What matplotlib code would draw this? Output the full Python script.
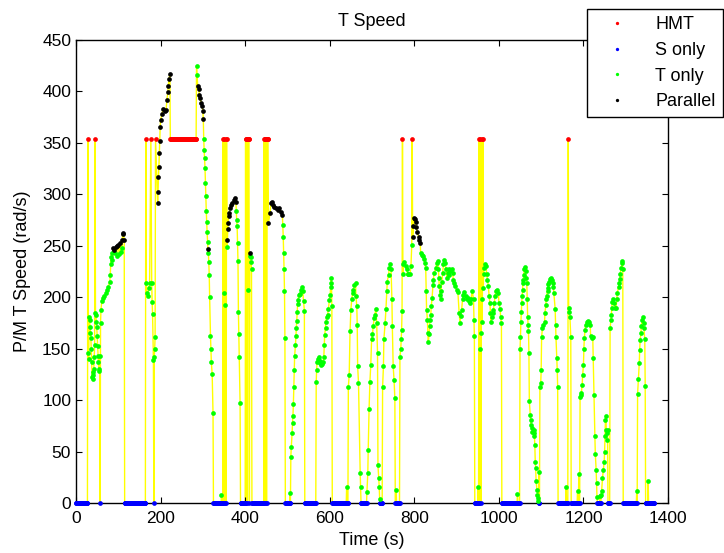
import numpy as np
import matplotlib.pyplot as plt

plt.rcParams['font.family'] = ['Liberation Sans', 'DejaVu Sans']

HMT_SPEED = 354  # rad/s, T speed held while in HMT mode

# mode runs (start s, end s), sampled every second
s_only_runs = [(0, 27), (57, 57), (115, 164), (184, 184), (325, 343), (345, 347),
               (349, 349), (353, 353), (355, 355), (389, 400), (402, 402), (405, 405),
               (410, 410), (416, 444), (446, 446), (450, 451), (495, 505), (507, 507),
               (541, 567), (606, 639), (641, 643), (674, 687), (719, 724), (755, 756),
               (758, 765), (943, 950), (952, 952), (954, 954), (958, 958), (1007, 1043),
               (1045, 1049), (1094, 1094), (1096, 1096), (1140, 1158), (1160, 1163),
               (1171, 1185), (1187, 1188), (1190, 1191), (1233, 1238), (1240, 1241),
               (1258, 1262), (1294, 1325), (1327, 1327), (1347, 1352), (1354, 1367)]
hmt_runs = [(28, 28), (45, 45), (165, 165), (177, 177), (188, 188), (223, 284),
            (348, 348), (350, 350), (354, 354), (356, 356), (401, 401), (403, 404),
            (407, 409), (445, 445), (447, 449), (452, 454), (772, 772), (795, 795),
            (953, 953), (955, 955), (959, 959), (962, 962), (1164, 1164)]

t_only = [
    (29, 146), (30, 140), (31, 181), (32, 178), (33, 171), (34, 165), (35, 160), (36, 150),
    (37, 137), (38, 122), (39, 121), (40, 124), (41, 127), (42, 130), (43, 142), (44, 154),
    (46, 185), (47, 183), (48, 176), (49, 171), (50, 162), (51, 153), (52, 143), (53, 137),
    (54, 128), (55, 130), (56, 143),
    (58, 175), (59, 188), (61, 196), (63, 199), (67, 201), (71, 204), (74, 207), (76, 210),
    (80, 215), (81, 222), (82, 232), (83, 239), (84, 243), (86, 236), (92, 243), (96, 240),
    (102, 242), (106, 244), (109, 248),
    (166, 214), (168, 204), (170, 201), (172, 209), (174, 214), (179, 214), (180, 195),
    (181, 184), (183, 139), (185, 142), (186, 150), (187, 161),
    (285, 425), (286, 416),
    (302, 354), (303, 343), (304, 335), (305, 326), (306, 311), (307, 298), (308, 284),
    (309, 273), (310, 263), (311, 254), (313, 243), (314, 234), (315, 222), (316, 200),
    (318, 162), (319, 150), (320, 137), (322, 125), (324, 87),
    (344, 8), (351, 204), (352, 192), (357, 249),
    (379, 284), (380, 275), (381, 269), (382, 253), (383, 235), (384, 186), (385, 164),
    (386, 142), (388, 97),
    (406, 207), (412, 240), (413, 239), (414, 234), (415, 227),
    (489, 270), (490, 259), (491, 243), (492, 227), (493, 206), (494, 160),
    (506, 10),
    (508, 45), (509, 54), (511, 68), (512, 78), (513, 85), (514, 96), (515, 113), (516, 129),
    (517, 143), (519, 154), (520, 162), (521, 170), (522, 177), (523, 186), (524, 193),
    (525, 197), (527, 202), (530, 203), (532, 207), (534, 210), (536, 206), (538, 196),
    (540, 187),
    (568, 118), (569, 129), (570, 137), (572, 140), (574, 142), (576, 138), (578, 136),
    (580, 134), (582, 135), (584, 137), (586, 142), (587, 154), (588, 163), (590, 170),
    (591, 176), (593, 181), (595, 183), (597, 189), (599, 197), (601, 202), (602, 210),
    (603, 214), (604, 219), (605, 191),
    (640, 16),
    (644, 113), (646, 124), (648, 167), (650, 188), (652, 198), (654, 204), (656, 207),
    (658, 212), (661, 214), (662, 201), (664, 191), (665, 173), (666, 133), (668, 117),
    (672, 29), (673, 16),
    (688, 11), (690, 29), (691, 52), (693, 91), (695, 118), (697, 134), (699, 159),
    (701, 164), (703, 172), (705, 180), (707, 183), (709, 189), (711, 175), (713, 146),
    (714, 37), (716, 24), (717, 16), (718, 4),
    (725, 113), (727, 133), (728, 159), (731, 175), (733, 189), (735, 206), (736, 215),
    (739, 222), (741, 228), (743, 232), (745, 227), (747, 198), (748, 172), (750, 133),
    (752, 120), (754, 102), (757, 13),
    (766, 142), (768, 150), (769, 159), (770, 168), (771, 187), (773, 223), (774, 232),
    (776, 234), (780, 230), (782, 227), (784, 223), (786, 223), (790, 223), (792, 230),
    (794, 251),
    (815, 243), (818, 241), (820, 240), (823, 237), (825, 233), (827, 228), (828, 206),
    (829, 188), (831, 178), (832, 165), (833, 156), (835, 164), (836, 172), (837, 178),
    (839, 183), (840, 191), (842, 199), (844, 212), (845, 217), (847, 224), (851, 228),
    (853, 233), (855, 235), (857, 227), (858, 219), (859, 211), (861, 202), (862, 198),
    (863, 206), (865, 215), (867, 224), (869, 232), (871, 236), (873, 233), (875, 227),
    (877, 219), (879, 224), (881, 227), (883, 222), (884, 225), (889, 227), (891, 224),
    (892, 217), (895, 214), (897, 211), (900, 207), (903, 205), (906, 185), (908, 175),
    (910, 182), (912, 188), (914, 198), (916, 202), (918, 205), (922, 201), (924, 198),
    (926, 199), (929, 196), (932, 194), (934, 198), (937, 206), (940, 198), (941, 178),
    (942, 162),
    (951, 16), (956, 150), (957, 165), (960, 176), (961, 198), (963, 209), (964, 223),
    (965, 228), (967, 232), (970, 230), (971, 223), (973, 217), (975, 211), (977, 201),
    (979, 194), (980, 185), (981, 176), (983, 181), (985, 185), (987, 188), (989, 194),
    (991, 201), (993, 206), (996, 207), (999, 204), (1000, 194), (1003, 189), (1004, 181),
    (1006, 175),
    (1044, 9),
    (1050, 150), (1051, 161), (1052, 176), (1053, 186), (1054, 194), (1055, 201),
    (1056, 207), (1057, 214), (1058, 217), (1059, 222), (1060, 227), (1061, 229),
    (1063, 225), (1064, 219), (1066, 214), (1067, 198), (1068, 181), (1069, 173),
    (1070, 167), (1071, 146), (1072, 99), (1074, 86), (1075, 81), (1076, 76), (1078, 73),
    (1079, 69), (1082, 71), (1083, 68), (1084, 65), (1085, 56), (1086, 40), (1087, 34),
    (1088, 21), (1090, 13), (1091, 8), (1092, 5), (1093, 2),
    (1095, 30), (1097, 113), (1099, 117), (1100, 129), (1101, 161), (1103, 170),
    (1105, 173), (1108, 176), (1109, 185), (1111, 192), (1112, 198), (1113, 201),
    (1115, 206), (1116, 209), (1117, 213), (1119, 215), (1121, 218), (1123, 219),
    (1125, 217), (1127, 214), (1129, 210), (1130, 204), (1133, 189), (1134, 173),
    (1135, 161), (1137, 141), (1138, 129), (1139, 113),
    (1159, 16), (1165, 186), (1166, 190), (1168, 181), (1170, 161),
    (1186, 12), (1189, 28),
    (1192, 103), (1194, 105), (1195, 107), (1197, 115), (1198, 124), (1200, 134),
    (1201, 150), (1202, 160), (1204, 168), (1205, 173), (1208, 176), (1210, 177),
    (1212, 176), (1216, 173), (1217, 162), (1220, 160), (1222, 161), (1223, 141),
    (1225, 105), (1227, 65), (1228, 48), (1230, 32), (1231, 19), (1232, 6),
    (1239, 7), (1242, 8), (1243, 12), (1245, 24), (1247, 32), (1249, 40), (1250, 50),
    (1251, 65), (1252, 81), (1253, 85), (1254, 71), (1255, 61), (1256, 68), (1257, 71),
    (1263, 170), (1265, 178), (1266, 183), (1267, 190), (1268, 195), (1271, 198),
    (1273, 194), (1275, 190), (1277, 190), (1279, 198), (1280, 204), (1283, 210),
    (1284, 214), (1286, 218), (1287, 223), (1289, 228), (1291, 233), (1292, 235),
    (1293, 227),
    (1326, 12), (1328, 106), (1330, 121), (1332, 136), (1333, 149), (1334, 158),
    (1336, 165), (1337, 172), (1339, 178), (1341, 181), (1342, 175), (1343, 170),
    (1345, 159), (1346, 114), (1353, 21),
]

parallel = [
    (88, 248), (90, 246), (94, 249), (98, 250), (100, 251), (104, 253), (108, 256),
    (110, 261), (112, 262), (114, 256),
    (193, 292), (194, 302), (195, 317), (196, 327), (197, 340), (198, 352), (199, 365),
    (200, 372), (203, 378), (206, 383), (210, 381), (213, 382), (215, 392), (217, 399),
    (218, 405), (220, 412), (222, 417),
    (288, 405), (290, 402), (292, 397), (294, 394), (296, 389), (298, 386), (300, 381),
    (301, 373), (312, 247),
    (358, 256), (359, 266), (360, 272), (361, 279), (362, 282), (364, 287), (366, 290),
    (370, 292), (374, 294), (376, 296), (378, 293),
    (411, 243),
    (455, 272), (459, 282), (461, 292), (463, 293), (466, 290), (469, 288), (474, 287),
    (478, 285), (480, 287), (485, 283), (488, 280),
    (796, 259), (798, 269), (800, 277), (802, 276), (803, 273), (804, 268), (807, 263),
    (810, 259), (812, 256), (814, 253),
]


def expand(runs):
    return np.concatenate([np.arange(a, b + 1) for a, b in runs]).astype(float)


s_t = expand(s_only_runs)
s_v = np.zeros_like(s_t)
h_t = expand(hmt_runs)
h_v = np.full_like(h_t, HMT_SPEED)
t_t, t_v = np.array(t_only, dtype=float).T
p_t, p_v = np.array(parallel, dtype=float).T

# full trace in time order for the connecting line
all_t = np.concatenate([h_t, s_t, t_t, p_t])
all_v = np.concatenate([h_v, s_v, t_v, p_v])
order = np.argsort(all_t, kind='stable')

fig = plt.figure(figsize=(7.24, 5.53), dpi=100)
ax = fig.add_axes([0.105, 0.0904, 0.8177, 0.8373])

ax.plot(all_t[order], all_v[order], '-', color='yellow', lw=1.0, zorder=1)
ms = 3.4
ax.plot(h_t, h_v, 'o', color='red', ms=ms, mew=0, label='HMT', zorder=2)
ax.plot(s_t, s_v, 'o', color='blue', ms=ms, mew=0, label='S only', zorder=4, clip_on=False)
ax.plot(t_t, t_v, 'o', color=(0, 1, 0), ms=ms, mew=0, label='T only', zorder=5, clip_on=False)
ax.plot(p_t, p_v, 'o', color='black', ms=ms, mew=0, label='Parallel', zorder=5)

ax.set_xlim(0, 1400)
ax.set_ylim(0, 450)
ax.set_xticks(np.arange(0, 1401, 200))
ax.set_yticks(np.arange(0, 451, 50))
ax.tick_params(direction='in', top=True, right=True, length=4, width=0.8, labelsize=12.5)
ax.tick_params(axis='x', pad=6)
for sp in ax.spines.values():
    sp.set_linewidth(1.0)
ax.set_xlabel('Time (s)', fontsize=13, labelpad=4)
ax.set_ylabel('P/M T Speed (rad/s)', fontsize=13, labelpad=8)
ax.set_title('T Speed', fontsize=13, pad=10)

leg = fig.legend(loc='upper right', bbox_to_anchor=(0.9986, 0.9837), fontsize=13,
                 fancybox=False, edgecolor='black', framealpha=1, markerscale=0.7,
                 handlelength=2.6, borderaxespad=0, labelspacing=0.48)
leg.get_frame().set_linewidth(1.0)

fig.savefig('out.png', dpi=100)
